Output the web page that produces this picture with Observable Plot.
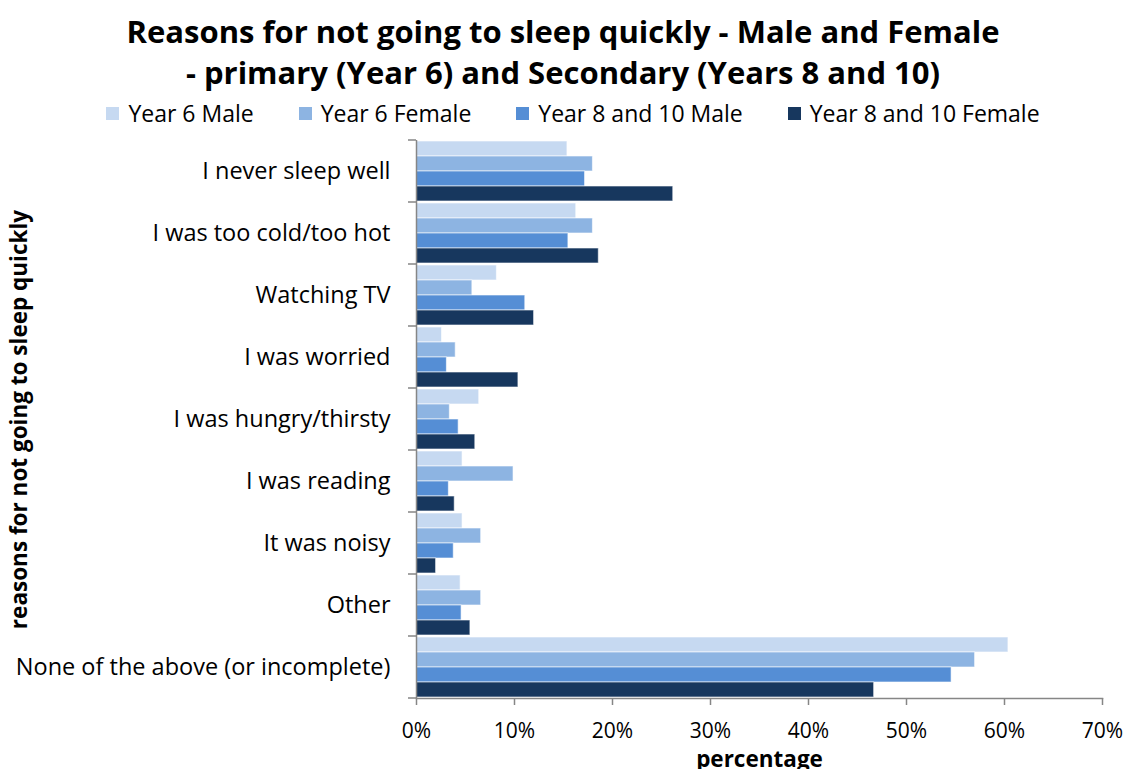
<!DOCTYPE html>
<html><head><meta charset="utf-8">
<script src="https://cdn.jsdelivr.net/npm/d3@7"></script>
<script src="https://cdn.jsdelivr.net/npm/@observablehq/plot@0.6"></script>
<style>
body{margin:0;background:#fff;font-family:"Open Sans",sans-serif;color:#000}
#wrap{width:1126px;height:769px;overflow:hidden;position:relative}
#title{text-align:center;font-weight:bold;font-size:31px;line-height:41px;padding-top:11px;height:96px;box-sizing:border-box;white-space:nowrap}
#legend{display:flex;justify-content:center;gap:45px;font-size:23px;height:34px;align-items:center;white-space:nowrap;padding-left:20px}
#legend .item{display:flex;align-items:center}
#legend .sw{display:inline-block;width:13px;height:13px;margin-right:9px}
#chart svg{display:block}
</style>
</head><body>
<div id="wrap">
<div id="title">Reasons for not going to sleep quickly - Male and Female<br>- primary (Year 6) and Secondary (Years 8 and 10)</div>
<div id="legend"></div>
<div id="chart"></div>
</div>
<script>
const reasons = ["I never sleep well","I was too cold/too hot","Watching TV","I was worried","I was hungry/thirsty","I was reading","It was noisy","Other","None of the above (or incomplete)"];
const seriesNames = ["Year 6 Male","Year 6 Female","Year 8 and 10 Male","Year 8 and 10 Female"];
const year6Male     = [15.4, 16.3, 8.2, 2.6, 6.4, 4.7, 4.7, 4.5, 60.4];
const year6Female   = [18.0, 18.0, 5.7, 4.0, 3.4, 9.9, 6.6, 6.6, 57.0];
const year8Male     = [17.2, 15.5, 11.1, 3.1, 4.3, 3.3, 3.8, 4.6, 54.6];
const year8Female   = [26.2, 18.6, 12.0, 10.4, 6.0, 3.9, 2.0, 5.5, 46.7];
const colors = ["#C6D9F1","#8DB4E2","#558ED5","#17375E"];
const xTicks = [0,10,20,30,40,50,60,70];

const seriesValues = [year6Male, year6Female, year8Male, year8Female];
const data = reasons.flatMap((r,i)=>seriesNames.map((s,j)=>({reason:r, series:s, value:seriesValues[j][i]})));

// legend
const leg = document.getElementById("legend");
seriesNames.forEach((s,j)=>{
  const it = document.createElement("div"); it.className="item";
  const sw = document.createElement("span"); sw.className="sw"; sw.style.background=colors[j];
  it.appendChild(sw); it.appendChild(document.createTextNode(s)); leg.appendChild(it);
});

const plot = Plot.plot({
  width:1126, height:639,
  marginTop:8, marginBottom:70, marginLeft:416, marginRight:24,
  style:{fontFamily:"'Open Sans', sans-serif", fontSize:"21px", color:"#000", background:"#fff", overflow:"visible"},
  x:{domain:[0,70], ticks:xTicks, tickFormat:d=>d+"%"},
  fy:{domain:reasons, padding:0},
  y:{domain:seriesNames, axis:null, paddingInner:0.02, paddingOuter:0.05},
  color:{domain:seriesNames, range:colors},
  marks:[
    Plot.barX(data,{fy:"reason", y:"series", x:"value", fill:"series", stroke:"#fff", strokeOpacity:0.6, strokeWidth:1}),
    Plot.ruleX([0],{stroke:"#868686", strokeWidth:1.5}),
    Plot.frame({anchor:"bottom", facetAnchor:"bottom", stroke:"#868686", strokeWidth:1.5}),
    Plot.axisFy({anchor:"left", tickSize:0, tickPadding:26, fontSize:23.5, label:"reasons for not going to sleep quickly", labelArrow:"none", labelAnchor:"center", labelOffset:405}),
    Plot.axisX({anchor:"bottom", ticks:xTicks, tickFormat:d=>d+"%", tickSize:7, stroke:"#868686", strokeWidth:1.5, tickPadding:18, fontSize:21, label:"percentage", labelArrow:"none", labelAnchor:"center", labelOffset:68})
  ]
});
document.getElementById("chart").appendChild(plot);

// category boundary ticks on the y axis, positioned with the fy scale
const fy = plot.scale("fy");
const svg = d3.select(plot);
const bounds = reasons.map(r=>fy.apply(r)).concat([fy.apply(reasons[reasons.length-1]) + fy.bandwidth]);
svg.append("g").selectAll("line").data(bounds).join("line")
  .attr("x1", 416-8).attr("x2", 416).attr("y1", d=>d).attr("y2", d=>d)
  .attr("stroke","#868686").attr("stroke-width",1.5);
// bold axis titles
svg.selectAll("g[aria-label$='axis label'] text").attr("font-weight","bold").attr("font-size",22.5);
</script>
</body></html>
